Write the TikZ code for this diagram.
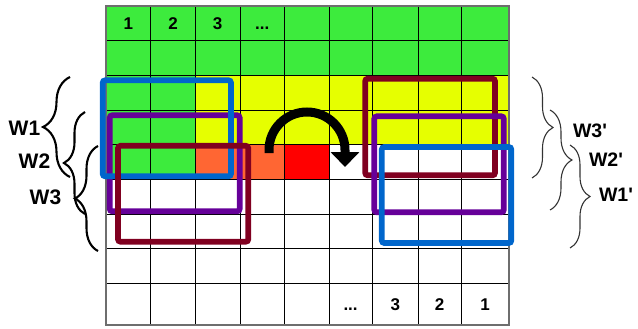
\documentclass[tikz,border=0pt]{standalone}
\usepackage{fontspec}
\setmainfont{Liberation Sans}
\usetikzlibrary{decorations.pathreplacing,arrows.meta}
\definecolor{cgreen}{RGB}{61,235,61}
\definecolor{cyellow}{RGB}{230,255,0}
\definecolor{corange}{RGB}{255,102,51}
\definecolor{cred}{RGB}{255,0,0}
\definecolor{cblue}{RGB}{0,102,204}
\definecolor{cpurple}{RGB}{102,0,153}
\definecolor{cdark}{RGB}{128,0,32}
\definecolor{cborder}{RGB}{110,110,110}
\begin{document}
\begin{tikzpicture}[x=1pt,y=-1pt,
  gridline/.style={draw=black, line width=0.9pt},
  border/.style={draw=cborder, line width=1.4pt},
  num/.style={font=\bfseries\fontsize{17}{17}\selectfont, text height=12.2pt, text depth=0pt, inner sep=0pt},
  wbox/.style={line width=5.7pt, rounded corners=2.5pt},
  lbrace/.style={decorate, line width=2.1pt, draw=black},
  rbrace/.style={decorate, line width=1.1pt, draw=black!80},
  llabel/.style={font=\bfseries\fontsize{21}{21}\selectfont, inner sep=0pt},
  rlabel/.style={font=\bfseries\fontsize{19.5}{19.5}\selectfont, inner sep=0pt},
  bigarrow/.style={line width=9pt, -{Triangle[length=15pt,width=28pt]}}
]
\useasboundingbox (0,0) rectangle (638,329);
% grid coordinates
\foreach \x [count=\i from 0] in {106,150.7,195.3,240,284.3,329,372.3,418.3,461,509}
  \coordinate (c\i) at (\x,0);
\foreach \y [count=\j from 0] in {6,40.7,75.3,110,144.7,179.3,214,248.7,283.3,325}
  \coordinate (r\j) at (0,\y);
% cell fills
\fill[cgreen] (c0|-r0) rectangle (c9|-r2);
\fill[cgreen] (c0|-r2) rectangle (c2|-r5);
\fill[cyellow] (c2|-r2) rectangle (c9|-r4);
\fill[corange] (c2|-r4) rectangle (c4|-r5);
\fill[cred] (c4|-r4) rectangle (c5|-r5);
% grid lines
\foreach \i in {1,...,8} \draw[gridline] (c\i|-r0) -- (c\i|-r9);
\foreach \j in {1,...,8} \draw[gridline] (c0|-r\j) -- (c9|-r\j);
\draw[border] (c0|-r0) rectangle (c9|-r9);
% numbers
\node[num] (t1) at (128.3,23.3) {1};
\node[num] (t2) at (173,23.3) {2};
\node[num] (t3) at (217.6,23.3) {3};
\node[num] (t4) at (262.2,23.3) {...};
\node[num] (b4) at (350.6,304.2) {...};
\node[num] (b3) at (395.3,304.2) {3};
\node[num] (b2) at (439.6,304.2) {2};
\node[num] (b1) at (485,304.2) {1};
% left windows
\draw[wbox, cpurple] (109.7,115.3) rectangle (239.7,211.3);
\draw[wbox, cblue] (102.7,80.3) rectangle (231,176.3);
\draw[wbox, cdark] (118,145.8) rectangle (248.3,241.7);
% right windows
\draw[wbox, cdark] (365.2,78.7) rectangle (495,175.3);
\draw[wbox, cpurple] (374.3,116.3) rectangle (503.8,212.3);
\draw[wbox, cblue] (381.8,147) rectangle (511.3,243);
% arrow
\coordinate (a0) at (269,153);
\coordinate (a1) at (269,150);
\coordinate (a2) at (307,112);
\coordinate (a3) at (345,150);
\coordinate (a4) at (345,167);
\draw[bigarrow] (a0) -- (a1) .. controls (269,129) and (286,112) .. (a2)
  .. controls (328,112) and (345,129) .. (a3) -- (a4);
% left braces
\coordinate (w1b) at (70,177); \coordinate (w1t) at (70,77);
\coordinate (w2b) at (85,214); \coordinate (w2t) at (85,112);
\coordinate (w3b) at (98,251); \coordinate (w3t) at (98,146);
\draw[lbrace, decoration={brace, amplitude=27pt}] (w1b) -- (w1t);
\draw[lbrace, decoration={brace, amplitude=21pt}] (w2b) -- (w2t);
\draw[lbrace, decoration={brace, amplitude=23pt}] (w3b) -- (w3t);
\node[llabel] (W1) at (24.5,128.5) {W1};
\node[llabel] (W2) at (34.5,161) {W2};
\node[llabel] (W3) at (45.5,197.5) {W3};
% right braces
\coordinate (v3t) at (532,77); \coordinate (v3b) at (532,178);
\coordinate (v2t) at (550,110); \coordinate (v2b) at (550,210);
\coordinate (v1t) at (570,145); \coordinate (v1b) at (570,248);
\draw[rbrace, decoration={brace, amplitude=21pt}] (v3t) -- (v3b);
\draw[rbrace, decoration={brace, amplitude=22pt}] (v2t) -- (v2b);
\draw[rbrace, decoration={brace, amplitude=20pt}] (v1t) -- (v1b);
\node[rlabel] (V3) at (590,130.5) {W3\textquotesingle};
\node[rlabel] (V2) at (606,159.5) {W2\textquotesingle};
\node[rlabel] (V1) at (616,194.5) {W1\textquotesingle};
\end{tikzpicture}
\end{document}
